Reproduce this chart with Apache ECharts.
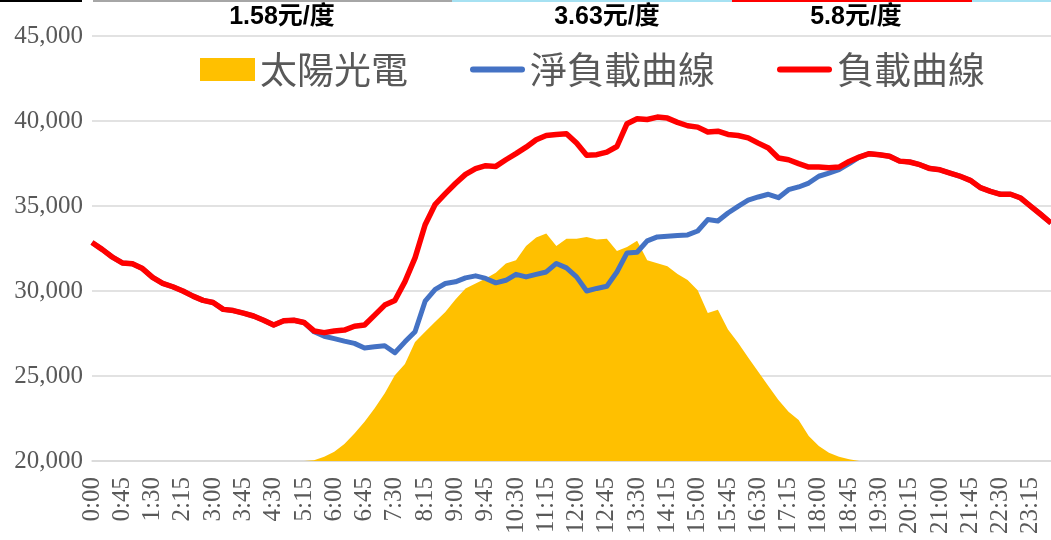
<!DOCTYPE html>
<html>
<head>
<meta charset="utf-8">
<title>負載曲線</title>
<script src="https://cdn.jsdelivr.net/npm/echarts@6/dist/echarts.min.js"></script>
<style>
  html, body { margin: 0; padding: 0; background: #fff; }
  #chart { width: 1051px; height: 540px; }
</style>
</head>
<body>
<div id="chart"></div>
<script>
// 時間刻度 (每15分鐘)
const times = [
  '0:00','0:15','0:30','0:45','1:00','1:15','1:30','1:45','2:00','2:15','2:30','2:45',
  '3:00','3:15','3:30','3:45','4:00','4:15','4:30','4:45','5:00','5:15','5:30','5:45',
  '6:00','6:15','6:30','6:45','7:00','7:15','7:30','7:45','8:00','8:15','8:30','8:45',
  '9:00','9:15','9:30','9:45','10:00','10:15','10:30','10:45','11:00','11:15','11:30','11:45',
  '12:00','12:15','12:30','12:45','13:00','13:15','13:30','13:45','14:00','14:15','14:30','14:45',
  '15:00','15:15','15:30','15:45','16:00','16:15','16:30','16:45','17:00','17:15','17:30','17:45',
  '18:00','18:15','18:30','18:45','19:00','19:15','19:30','19:45','20:00','20:15','20:30','20:45',
  '21:00','21:15','21:30','21:45','22:00','22:15','22:30','22:45','23:00','23:15','23:30','23:45'
];

// 太陽光電
const solar = [
  20000, 20000, 20000, 20000, 20000, 20000, 20000, 20000, 20000, 20000, 20000, 20000,
  20000, 20000, 20000, 20000, 20000, 20000, 20000, 20000, 20000, 20000, 20050, 20250,
  20550, 21000, 21620, 22310, 23100, 23980, 25050, 25700, 27000, 27600, 28190, 28770,
  29500, 30150, 30440, 30740, 31070, 31620, 31810, 32650, 33140, 33380, 32650, 33080,
  33080, 33180, 33030, 33080, 32360, 32590, 32950, 31810, 31630, 31450, 31000, 30640,
  30040, 28700, 28900, 27740, 26950, 26090, 25250, 24410, 23590, 22900, 22410, 21470,
  20880, 20490, 20250, 20100, 20000, 20000, 20000, 20000, 20000, 20000, 20000, 20000,
  20000, 20000, 20000, 20000, 20000, 20000, 20000, 20000, 20000, 20000, 20000, 20000
];

// 淨負載曲線
const netLoad = [
  32850, 32450, 32000, 31650, 31600, 31320, 30800, 30450, 30250, 30000, 29700, 29450,
  29320, 28920, 28850, 28700, 28530, 28280, 28000, 28250, 28280, 28150, 27600, 27340,
  27200, 27050, 26920, 26650, 26720, 26780, 26370, 27010, 27600, 29400, 30100, 30440,
  30540, 30770, 30890, 30740, 30480, 30630, 30980, 30830, 30980, 31120, 31620, 31360,
  30830, 30000, 30150, 30280, 31120, 32240, 32280, 32950, 33180, 33220, 33260, 33300,
  33530, 34200, 34120, 34590, 34980, 35340, 35530, 35690, 35490, 35960, 36120, 36350,
  36750, 36940, 37140, 37490, 37880, 38080, 38020, 37930, 37640, 37590, 37430, 37200,
  37130, 36940, 36750, 36510, 36080, 35860, 35690, 35690, 35470, 34980, 34500, 34000
];

// 負載曲線
const load = [
  32850, 32450, 32000, 31650, 31600, 31320, 30800, 30450, 30250, 30000, 29700, 29450,
  29320, 28920, 28850, 28700, 28530, 28280, 28000, 28250, 28280, 28150, 27650, 27550,
  27650, 27700, 27930, 28000, 28580, 29170, 29440, 30550, 31950, 33900, 35100, 35730,
  36320, 36860, 37200, 37370, 37330, 37720, 38080, 38460, 38900, 39150, 39210, 39250,
  38700, 37980, 38020, 38170, 38500, 39840, 40130, 40090, 40230, 40170, 39920, 39720,
  39640, 39350, 39400, 39210, 39150, 39010, 38700, 38410, 37820, 37720, 37490, 37290,
  37290, 37250, 37290, 37620, 37880, 38080, 38020, 37930, 37640, 37590, 37430, 37200,
  37130, 36940, 36750, 36510, 36080, 35860, 35690, 35690, 35470, 34980, 34500, 34000
];

// 電價
const priceLabels = ['1.58元/度', '3.63元/度', '5.8元/度'];

const serif = '"Liberation Serif", "Times New Roman", serif';
const cjk = '"Noto Sans CJK TC", "Noto Sans", sans-serif';
const priceFont = 'bold 25px "Liberation Sans", "Noto Sans CJK TC", sans-serif';
const lineIcon = 'path://M3,0 H52 A3,3 0 0 1 52,6 H3 A3,3 0 0 1 3,0 Z';

const chart = echarts.init(document.getElementById('chart'), null, { renderer: 'canvas' });

const option = {
  animation: false,
  backgroundColor: '#fff',
  grid: { left: 92, right: 0, top: 36, bottom: 79, containLabel: false },
  legend: {
    left: 200,
    top: 51,
    padding: 0,
    itemGap: 62,
    itemWidth: 55,
    itemHeight: 23,
    textStyle: { fontSize: 37, color: '#595959', fontFamily: cjk },
    data: [
      { name: '太陽光電', icon: 'rect' },
      { name: '淨負載曲線', icon: lineIcon },
      { name: '負載曲線', icon: lineIcon }
    ]
  },
  xAxis: {
    type: 'category',
    data: times,
    boundaryGap: false,
    axisLine: { lineStyle: { color: '#d9d9d9', width: 1.5 } },
    axisTick: { show: false },
    axisLabel: {
      interval: 2,
      rotate: 90,
      margin: 16,
      color: '#595959',
      fontSize: 25,
      fontFamily: serif
    }
  },
  yAxis: {
    type: 'value',
    min: 20000,
    max: 45000,
    interval: 5000,
    axisLine: { show: false },
    axisTick: { show: false },
    splitLine: { lineStyle: { color: '#d9d9d9', width: 1.5 } },
    axisLabel: {
      margin: 9,
      color: '#595959',
      fontSize: 25,
      fontFamily: serif
    }
  },
  series: [
    {
      name: '太陽光電',
      type: 'line',
      data: solar,
      symbol: 'none',
      lineStyle: { width: 0 },
      itemStyle: { color: '#ffc000' },
      areaStyle: { color: '#ffc000', opacity: 1 }
    },
    {
      name: '淨負載曲線',
      type: 'line',
      data: netLoad,
      symbol: 'none',
      lineStyle: { width: 5, color: '#4472c4', join: 'round' },
      itemStyle: { color: '#4472c4' }
    },
    {
      name: '負載曲線',
      type: 'line',
      data: load,
      symbol: 'none',
      lineStyle: { width: 5.5, color: '#ff0000', join: 'round' },
      itemStyle: { color: '#ff0000' }
    }
  ],
  graphic: [
    // 頂部色條
    { type: 'rect', left: 0, top: 0, shape: { width: 82, height: 2 }, style: { fill: '#000' } },
    { type: 'rect', left: 93, top: 0, shape: { width: 359, height: 2 }, style: { fill: '#a6a6a6' } },
    { type: 'rect', left: 452, top: 0, shape: { width: 280, height: 2 }, style: { fill: '#a6e1f2' } },
    { type: 'rect', left: 732, top: 0, shape: { width: 240, height: 2 }, style: { fill: '#ff0000' } },
    { type: 'rect', left: 972, top: 0, shape: { width: 79, height: 2 }, style: { fill: '#a6e1f2' } },
    // 電價文字
    {
      type: 'text', x: 282, y: 17,
      style: { text: priceLabels[0], align: 'center', verticalAlign: 'middle', fill: '#000', font: priceFont }
    },
    {
      type: 'text', x: 607, y: 17,
      style: { text: priceLabels[1], align: 'center', verticalAlign: 'middle', fill: '#000', font: priceFont }
    },
    {
      type: 'text', x: 856, y: 17,
      style: { text: priceLabels[2], align: 'center', verticalAlign: 'middle', fill: '#000', font: priceFont }
    }
  ]
};

chart.setOption(option);
</script>
</body>
</html>
